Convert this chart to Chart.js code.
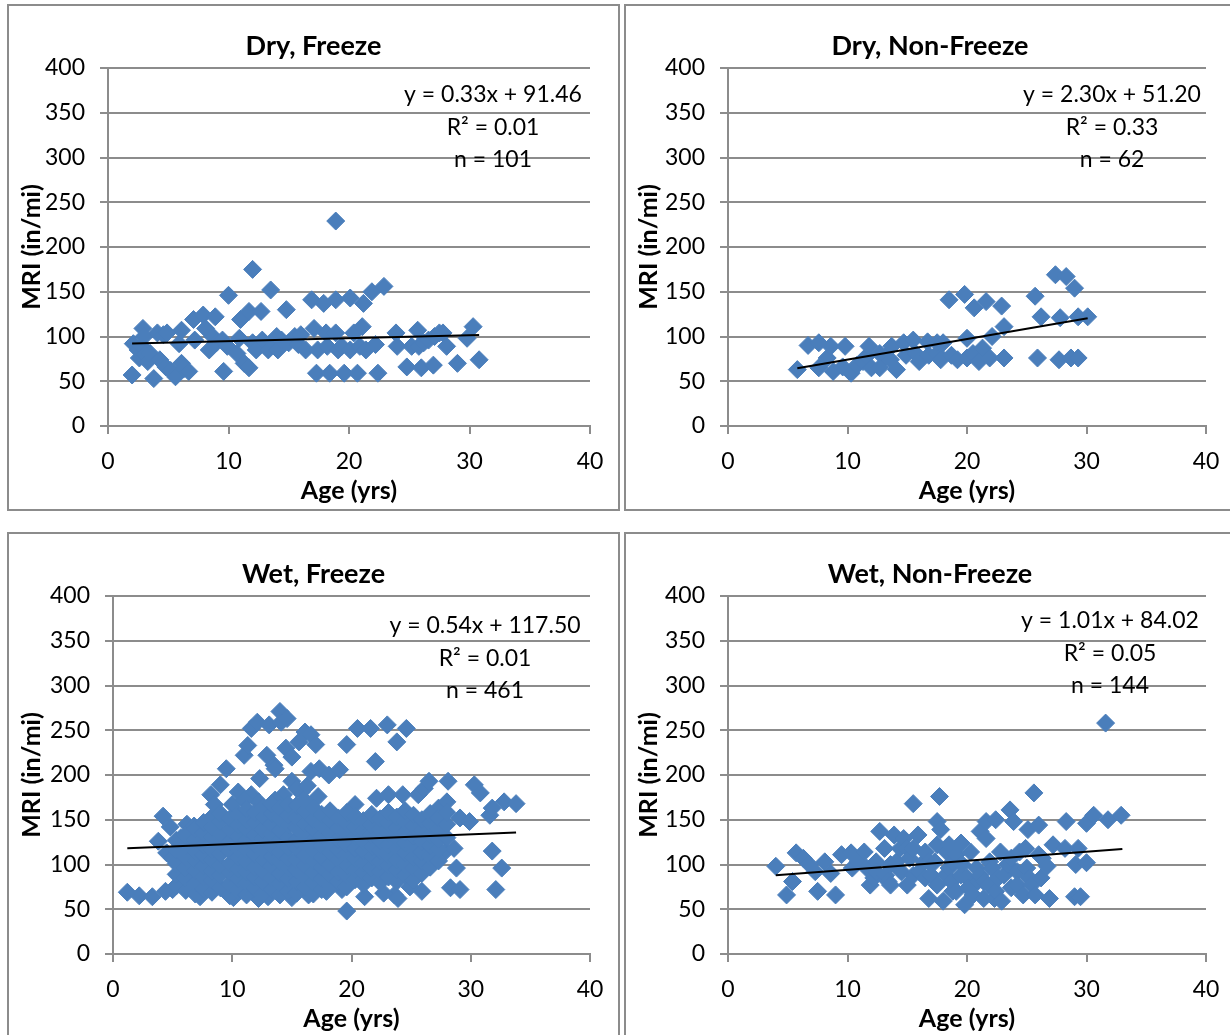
<!DOCTYPE html>
<html lang="en">
<head>
  <meta charset="UTF-8" />
  <title>MRI vs Age</title>
  <style>
    body { margin: 0; background: #fff; width: 1230px; height: 1035px; overflow: hidden; position: relative; }
    .panel { position: absolute; border: 2px solid #8c8c8c; background: #fff; }
    .panel canvas { display: block; }
  </style>
  <script src="https://cdn.jsdelivr.net/npm/chart.js"></script>
</head>
<body>
  <div class="panel" style="left:7px; top:4px;"><canvas id="dryFreeze" width="609" height="503"></canvas></div>
  <div class="panel" style="left:624px; top:4px;"><canvas id="dryNonFreeze" width="608" height="503"></canvas></div>
  <div class="panel" style="left:7px; top:532px;"><canvas id="wetFreeze" width="609" height="503"></canvas></div>
  <div class="panel" style="left:624px; top:532px;"><canvas id="wetNonFreeze" width="608" height="503"></canvas></div>

  <script>
    // axis ticks
    const xTicks = [0, 10, 20, 30, 40];
    const yTicks = [0, 50, 100, 150, 200, 250, 300, 350, 400];

    // panel titles and regression stats
    const titles = ['Dry, Freeze', 'Dry, Non-Freeze', 'Wet, Freeze', 'Wet, Non-Freeze'];
    const slopes = [0.33, 2.30, 0.54, 1.01];
    const intercepts = [91.46, 51.20, 117.50, 84.02];
    const rSquared = ['0.01', '0.33', '0.01', '0.05'];
    const counts = [101, 62, 461, 144];
    const trendFrom = [2.0, 5.8, 1.2, 4.0];
    const trendTo = [30.8, 30.1, 33.8, 33.0];

    // [age, MRI] pairs
    const dryFreeze = [
      [2.0,57],[2.1,92],[2.5,85],[2.6,76],[2.8,89],[2.9,109],[3.0,100],[3.1,80],[3.3,72],[3.5,81],
      [3.8,53],[4.1,104],[4.3,74],[4.6,102],[4.8,66],[4.9,104],[5.2,62],[5.6,55],[5.9,92],[6.1,107],
      [6.1,70],[6.3,64],[6.7,61],[7.1,119],[7.2,96],[7.9,124],[8.1,109],[8.4,85],[8.7,100],[8.9,122],
      [9.0,93],[9.5,96],[9.6,61],[9.9,89],[10.0,146],[10.7,81],[10.9,98],[11.0,119],[11.3,70],[11.7,128],
      [11.7,65],[12.0,175],[12.0,93],[12.3,85],[12.7,128],[12.8,96],[13.3,85],[13.5,152],[13.7,93],[14.0,100],
      [14.1,85],[14.4,96],[14.8,130],[15.0,93],[15.5,100],[15.8,91],[16.0,102],[16.4,85],[16.9,141],[17.1,109],
      [17.3,59],[17.4,85],[17.9,137],[18.1,104],[18.2,89],[18.4,59],[18.9,229],[18.9,141],[18.9,104],[19.1,85],
      [19.4,89],[19.6,59],[20.1,143],[20.1,85],[20.4,104],[20.7,59],[20.9,89],[21.1,111],[21.2,137],[21.4,85],
      [21.9,150],[22.2,91],[22.4,59],[22.9,156],[23.9,104],[24.0,89],[24.8,66],[25.2,89],[25.7,107],[25.8,89],
      [26.0,65],[26.2,93],[26.6,96],[27.0,68],[27.1,100],[27.5,104],[27.8,104],[28.1,89],[29.0,70],[29.8,98],
      [30.3,111],[30.8,74]
    ];

    const dryNonFreeze = [
      [5.8,63],[6.7,90],[7.6,93],[7.6,65],[8.3,76],[8.6,89],[8.8,61],[9.6,66],[9.8,89],[10.3,59],
      [10.8,68],[11.3,72],[11.6,78],[11.8,89],[12.0,65],[12.7,81],[12.7,65],[13.2,78],[13.6,74],[13.7,89],
      [14.1,63],[14.7,93],[14.9,79],[15.5,96],[15.7,81],[16.0,72],[16.7,94],[16.8,79],[17.5,81],[17.5,93],
      [17.8,74],[18.0,93],[18.5,141],[18.7,79],[19.2,74],[19.8,147],[20.0,98],[20.0,76],[20.5,81],[20.6,132],
      [21.0,72],[21.3,87],[21.6,139],[21.9,76],[22.1,100],[22.9,134],[23.1,111],[23.1,76],[25.7,145],[25.9,76],
      [26.2,122],[27.4,169],[27.7,74],[27.8,121],[28.3,167],[28.7,76],[29.0,154],[29.3,122],[29.3,76],[30.1,122]
    ];

    const wetFreeze = [
      // sparse outline
      [1.2,69],[2.2,65],[3.3,64],[3.8,126],[4.2,154],[4.5,113],[4.8,142],[5.0,107],[5.0,72],[5.7,130],
      [6.0,96],[6.2,145],[6.7,118],[6.8,143],[8.2,178],[8.5,167],[9.0,189],[9.5,207],[10.0,167],[10.5,181],
      [11.0,222],[11.3,233],[11.6,252],[11.6,178],[12.1,259],[12.3,196],[12.9,222],[13.1,256],[13.5,211],[13.6,207],
      [14.0,271],[14.1,259],[14.6,263],[14.5,230],[15.0,220],[15.0,193],[15.6,237],[15.8,181],[16.1,248],[16.6,204],
      [16.6,245],[17.0,234],[17.3,207],[18.1,200],[19.0,206],[19.6,234],[19.6,48],[20.5,252],[20.3,167],[21.1,64],
      [21.6,252],[22.0,215],[22.1,174],[23.0,256],[23.1,178],[23.8,237],[23.6,66],[23.9,62],[24.3,178],[24.6,252],
      [25.6,178],[26.1,185],[25.9,70],[26.5,193],[27.3,163],[28.0,170],[28.1,193],[27.9,115],[28.6,118],[28.8,96],
      [28.3,74],[29.1,72],[29.1,152],[29.9,148],[30.3,189],[30.8,180],[31.6,155],[31.8,115],[32.1,72],[32.6,96],
      [32.8,170],[31.8,163],[33.8,168],[14.3,178],[15.4,185],[16.3,188],[17.2,176],[13.6,172],[12.2,170],[11.0,172],
      [4.4,70],[7.3,64],[10.1,63],[12.2,62],[13.0,64],[15.0,63],[16.4,66],[17.9,70],[19.2,72],[22.7,68],[24.9,75],
      // dense cloud
      [5.3,76],[5.3,89],[5.3,101],[5.3,116],[5.3,127],
      [6.1,71],[6.1,85],[6.1,96],[6.1,108],[6.1,121],[6.1,133],
      [6.9,67],[6.9,79],[6.9,93],[6.9,104],[6.9,114],[6.9,128],[6.9,140],
      [7.6,73],[7.6,86],[7.6,98],[7.6,111],[7.6,122],[7.6,135],[7.6,147],
      [8.3,69],[8.3,82],[8.3,92],[8.3,106],[8.3,117],[8.3,130],[8.3,141],[8.3,153],
      [9.0,74],[9.0,88],[9.0,99],[9.0,112],[9.0,124],[9.0,134],[9.0,148],[9.0,157],
      [9.8,65],[9.8,78],[9.8,91],[9.8,101],[9.8,115],[9.8,126],[9.8,139],[9.8,151],
      [10.5,71],[10.5,84],[10.5,95],[10.5,108],[10.5,118],[10.5,131],[10.5,144],[10.5,156],
      [11.2,66],[11.2,79],[11.2,92],[11.2,103],[11.2,116],[11.2,127],[11.2,140],[11.2,150],[11.2,162],
      [11.9,73],[11.9,86],[11.9,97],[11.9,111],[11.9,122],[11.9,133],[11.9,147],[11.9,158],
      [12.6,68],[12.6,81],[12.6,92],[12.6,105],[12.6,117],[12.6,129],[12.6,139],[12.6,153],[12.6,164],
      [13.3,72],[13.3,85],[13.3,98],[13.3,109],[13.3,120],[13.3,134],[13.3,145],[13.3,157],[13.3,168],
      [14.0,66],[14.0,79],[14.0,90],[14.0,103],[14.0,114],[14.0,127],[14.0,138],[14.0,151],[14.0,163],
      [14.7,70],[14.7,84],[14.7,96],[14.7,107],[14.7,119],[14.7,130],[14.7,144],[14.7,155],[14.7,167],
      [15.4,68],[15.4,81],[15.4,94],[15.4,105],[15.4,118],[15.4,128],[15.4,141],[15.4,152],[15.4,166],
      [16.1,74],[16.1,86],[16.1,99],[16.1,110],[16.1,123],[16.1,134],[16.1,146],[16.1,159],[16.1,171],
      [16.8,67],[16.8,80],[16.8,91],[16.8,104],[16.8,115],[16.8,127],[16.8,140],[16.8,150],[16.8,163],
      [17.5,72],[17.5,84],[17.5,97],[17.5,108],[17.5,121],[17.5,132],[17.5,144],[17.5,156],
      [18.2,76],[18.2,89],[18.2,100],[18.2,113],[18.2,124],[18.2,136],[18.2,149],[18.2,160],
      [18.9,81],[18.9,92],[18.9,105],[18.9,116],[18.9,128],[18.9,141],[18.9,152],
      [19.6,75],[19.6,88],[19.6,99],[19.6,112],[19.6,123],[19.6,135],[19.6,146],[19.6,158],
      [20.3,83],[20.3,94],[20.3,107],[20.3,118],[20.3,131],[20.3,142],[20.3,154],
      [21.0,78],[21.0,91],[21.0,102],[21.0,115],[21.0,126],[21.0,138],[21.0,149],
      [21.7,85],[21.7,96],[21.7,109],[21.7,120],[21.7,133],[21.7,144],[21.7,156],
      [22.4,80],[22.4,92],[22.4,103],[22.4,116],[22.4,127],[22.4,139],[22.4,151],
      [23.1,86],[23.1,99],[23.1,110],[23.1,122],[23.1,135],[23.1,146],[23.1,158],
      [23.8,81],[23.8,94],[23.8,105],[23.8,118],[23.8,129],[23.8,141],[23.8,153],
      [24.5,88],[24.5,100],[24.5,113],[24.5,124],[24.5,136],[24.5,148],[24.5,160],
      [25.2,83],[25.2,96],[25.2,107],[25.2,119],[25.2,132],[25.2,143],[25.2,155],
      [25.9,90],[25.9,103],[25.9,114],[25.9,126],[25.9,138],[25.9,150],
      [26.6,97],[26.6,109],[26.6,121],[26.6,133],[26.6,146],[26.6,157],
      [27.3,104],[27.3,117],[27.3,128],[27.3,140],[27.3,152],
      [28.0,130],[28.0,145],[28.0,158]
    ];

    const wetNonFreeze = [
      [4.0,98],[4.9,66],[5.4,81],[5.7,113],[6.3,107],[6.8,100],[7.3,92],[7.5,70],[8.1,103],[8.6,90],
      [9.0,66],[9.5,111],[10.3,113],[10.4,96],[10.9,103],[11.4,114],[11.6,96],[11.9,77],[12.2,85],[12.4,103],
      [12.4,92],[12.7,137],[13.1,118],[13.2,88],[13.4,81],[13.6,77],[13.6,100],[13.9,133],[14.1,103],[14.4,118],
      [14.5,92],[14.7,129],[15.0,77],[15.0,118],[15.2,107],[15.5,168],[15.5,118],[15.5,88],[15.9,133],[16.0,92],
      [16.4,103],[16.5,114],[16.5,85],[16.8,62],[16.8,103],[17.0,88],[17.3,103],[17.5,148],[17.5,77],[17.5,122],
      [17.7,176],[17.8,139],[18.0,59],[18.2,88],[18.3,114],[18.5,96],[18.5,122],[18.7,81],[18.8,103],[18.8,70],
      [19.1,70],[19.1,111],[19.5,124],[19.5,88],[19.6,100],[19.8,55],[20.0,85],[20.1,74],[20.3,114],[20.5,66],
      [20.8,96],[20.9,81],[21.1,137],[21.1,88],[21.4,62],[21.4,81],[21.6,129],[21.6,148],[21.8,77],[21.9,103],
      [22.1,96],[22.3,62],[22.4,150],[22.4,70],[22.6,85],[22.8,114],[22.9,59],[23.1,88],[23.4,100],[23.6,161],
      [23.7,74],[23.7,107],[23.9,148],[24.2,92],[24.2,77],[24.4,114],[24.7,66],[24.9,118],[25.0,96],[25.1,139],
      [25.2,85],[25.4,77],[25.6,180],[25.7,66],[26.0,111],[26.0,144],[26.2,85],[26.3,107],[26.7,98],[26.9,62],
      [27.2,122],[28.2,118],[28.3,148],[29.0,64],[29.1,100],[29.3,118],[29.5,64],[30.0,102],[30.0,146],[30.6,155],
      [31.6,258],[31.8,150],[32.9,155]
    ];

    const panelPoints = [dryFreeze, dryNonFreeze, wetFreeze, wetNonFreeze];
    const canvasIds = ['dryFreeze', 'dryNonFreeze', 'wetFreeze', 'wetNonFreeze'];

    // layout tweaks per panel (pixels)
    const yAxisWidth = [99, 102, 104, 102];
    const statsDx = [97, 94, 105, 96];
    const statsDy = [27, 27, 30, 25];

    const gridGray = '#8c8c8c';
    const markerBlue = '#4a7ebb';
    const fontStack = 'Lato, "Open Sans", sans-serif';

    Chart.defaults.font.family = fontStack;
    Chart.defaults.color = '#000';

    // panel title centred on the whole canvas, plus the equation / R² / n block
    const panelText = {
      id: 'panelText',
      afterDatasetsDraw(chart, args, opts) {
        const { ctx, chartArea } = chart;
        ctx.save();
        ctx.fillStyle = '#000';
        ctx.textAlign = 'center';
        ctx.textBaseline = 'middle';
        ctx.font = 'bold 27px ' + fontStack;
        ctx.fillText(opts.title, chart.width / 2, 40);
        ctx.font = '23px ' + fontStack;
        const cx = chartArea.right - opts.dx;
        opts.lines.forEach((t, i) => ctx.fillText(t, cx, chartArea.top + opts.dy + i * 32.5));
        ctx.restore();
      }
    };

    canvasIds.forEach((id, i) => {
      const a = slopes[i], b = intercepts[i];
      const trend = [trendFrom[i], trendTo[i]].map(x => ({ x: x, y: a * x + b }));
      const points = panelPoints[i].map(p => ({ x: p[0], y: p[1] }));

      new Chart(document.getElementById(id), {
        type: 'scatter',
        data: {
          datasets: [
            {
              type: 'line',
              data: trend,
              borderColor: '#000',
              borderWidth: 2,
              pointRadius: 0,
              fill: false,
              order: 0
            },
            {
              data: points,
              pointStyle: 'rectRot',
              pointRadius: 9,
              pointBackgroundColor: markerBlue,
              pointBorderColor: markerBlue,
              pointBorderWidth: 1,
              order: 1
            }
          ]
        },
        options: {
          responsive: false,
          animation: false,
          devicePixelRatio: 1,
          layout: { padding: { left: 0, right: 28, top: 62, bottom: 0 } },
          plugins: {
            legend: { display: false },
            tooltip: { enabled: false },
            title: { display: false },
            panelText: {
              title: titles[i],
              dx: statsDx[i],
              dy: statsDy[i],
              lines: [
                'y = ' + a.toFixed(2) + 'x + ' + b.toFixed(2),
                'R\u00B2 = ' + rSquared[i],
                'n = ' + counts[i]
              ]
            }
          },
          scales: {
            x: {
              type: 'linear',
              min: xTicks[0],
              max: xTicks[xTicks.length - 1],
              ticks: { stepSize: xTicks[1] - xTicks[0], padding: 14, font: { size: 23 }, color: '#000' },
              grid: { drawOnChartArea: false, color: gridGray, lineWidth: 2, tickLength: 8 },
              border: { color: gridGray, width: 2 },
              title: { display: true, text: 'Age (yrs)', font: { size: 25, weight: 'bold' }, color: '#000', padding: { top: 0, bottom: 3 } },
              afterFit: s => { s.height = 83; }
            },
            y: {
              min: yTicks[0],
              max: yTicks[yTicks.length - 1],
              ticks: { stepSize: yTicks[1] - yTicks[0], padding: 15, font: { size: 23 }, color: '#000' },
              grid: { color: gridGray, lineWidth: 2, tickLength: 8 },
              border: { color: gridGray, width: 2 },
              title: { display: true, text: 'MRI (in/mi)', font: { size: 25, weight: 'bold' }, color: '#000', padding: { top: 8, bottom: 0 } },
              afterFit: s => { s.width = yAxisWidth[i]; }
            }
          }
        },
        plugins: [panelText]
      });
    });
  </script>
</body>
</html>
